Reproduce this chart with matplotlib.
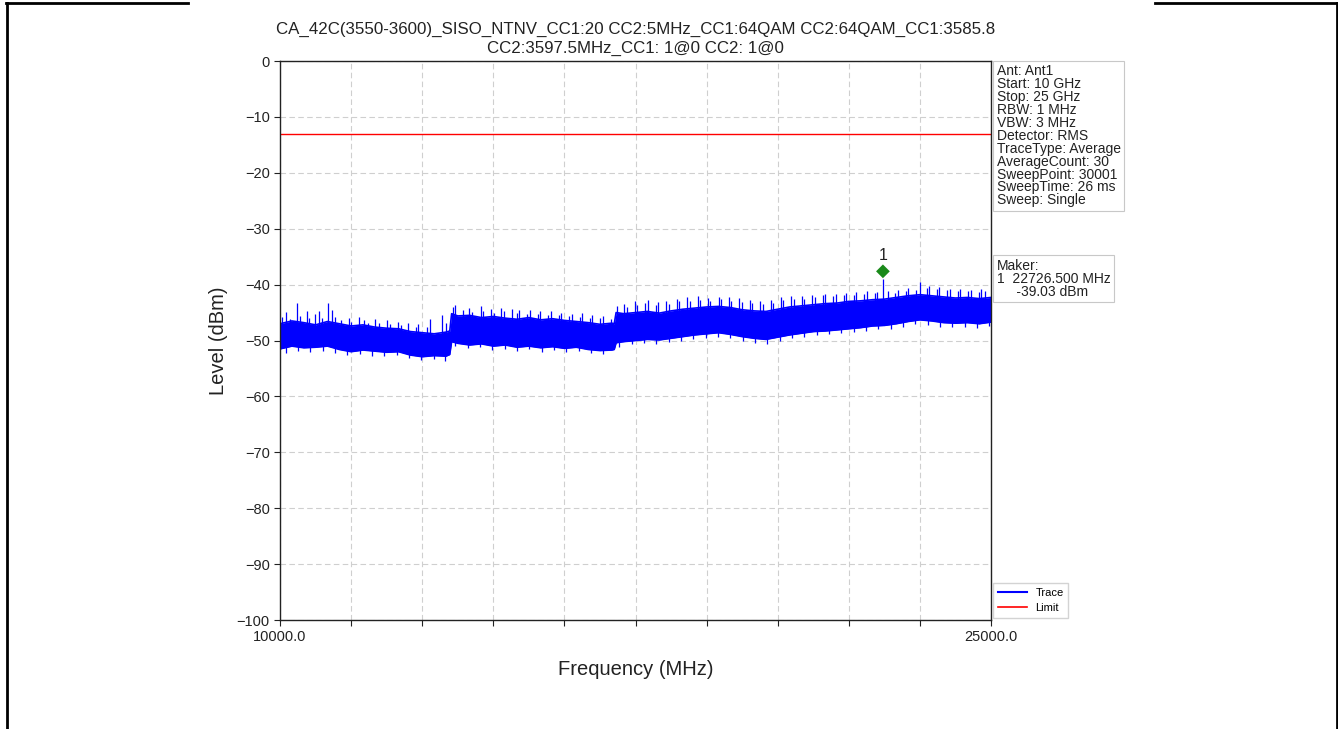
import numpy as np
import matplotlib
matplotlib.use("Agg")
import matplotlib.pyplot as plt
from matplotlib.lines import Line2D

plt.rcParams['font.family'] = ['Liberation Sans', 'DejaVu Sans']

# trace body (MHz / dBm)
freq_mhz = [10000, 10250, 10500, 10750, 11000, 11250, 11500, 11750, 12000, 12250,
            12500, 12750, 13000, 13250, 13500, 13580, 13620, 13750, 14000, 14250,
            14500, 14750, 15000, 15250, 15500, 15750, 16000, 16250, 16500, 16750,
            17000, 17050, 17090, 17250, 17500, 17750, 18000, 18250, 18500, 18750,
            19000, 19250, 19500, 19750, 20000, 20250, 20500, 20750, 21000, 21250,
            21500, 21750, 22000, 22250, 22500, 22750, 23000, 23250, 23500, 23750,
            24000, 24250, 24500, 24750, 25000]
trace_top = [-47.0, -46.5, -46.8, -47.2, -46.6, -47.0, -47.4, -47.2, -47.6, -47.8,
             -47.9, -48.4, -48.6, -48.8, -48.5, -48.3, -45.2, -45.6, -45.5, -45.9,
             -45.7, -46.0, -46.2, -45.9, -46.3, -46.1, -46.4, -46.6, -46.8, -47.1,
             -46.9, -47.0, -45.0, -45.2, -45.0, -44.8, -45.1, -44.7, -44.4, -44.2,
             -44.0, -43.9, -44.1, -44.5, -44.7, -44.8, -44.4, -44.0, -43.8, -43.6,
             -43.4, -43.3, -43.0, -42.9, -42.7, -42.6, -42.3, -42.0, -41.8, -42.0,
             -42.2, -42.4, -42.3, -42.5, -42.3]
trace_bottom = [-51.5, -51.0, -51.3, -51.2, -51.0, -51.6, -52.0, -51.7, -51.9, -52.1,
                -52.0, -52.6, -52.9, -52.7, -52.8, -52.5, -50.2, -50.5, -50.8, -50.6,
                -51.0, -50.8, -51.2, -51.0, -51.3, -51.1, -51.4, -51.2, -51.6, -51.8,
                -51.7, -51.6, -50.4, -50.2, -50.0, -49.8, -49.9, -49.6, -49.3, -49.0,
                -48.8, -48.6, -48.9, -49.3, -49.6, -49.8, -49.4, -49.0, -48.7, -48.4,
                -48.3, -48.1, -47.9, -47.7, -47.4, -47.3, -47.0, -46.6, -46.3, -46.5,
                -46.8, -46.9, -46.8, -47.0, -46.7]

# noise peaks above the trace body
peak_mhz = [10040, 10130, 10210, 10360, 10420, 10560, 10610, 10740, 10830, 10880,
            11020, 11100, 11160, 11290, 11450, 11500, 11660, 11780, 11850, 12010,
            12090, 12260, 12320, 12490, 12560, 12700, 12860, 12920, 13100, 13170,
            13420, 13510,
            13640, 13700, 13850, 13990, 14060, 14230, 14290, 14450, 14510, 14670,
            14720, 14890, 14990, 15050, 15220, 15280, 15440, 15490, 15660, 15710,
            15880, 15930, 16100, 16150, 16320, 16380, 16540, 16590, 16760, 16810,
            16980,
            17110, 17260, 17320, 17480, 17540, 17700, 17760, 17930, 17980, 18150,
            18200, 18370, 18420, 18590, 18640, 18810, 18860, 19030, 19080, 19250,
            19300, 19470, 19520, 19690, 19740, 19910, 19960, 20130, 20180, 20350,
            20400, 20570, 20620, 20790, 20840, 21010, 21060, 21230, 21280, 21450,
            21500, 21670, 21720, 21890, 21940, 22110, 22160, 22330, 22380, 22550,
            22600, 22726.5, 22820, 22980, 23030, 23200, 23250, 23420, 23500, 23640,
            23690, 23860, 23910, 24080, 24130, 24300, 24350, 24520, 24570, 24740,
            24790, 24880]
peak_dbm = [-45.8, -44.9, -46.2, -43.3, -45.6, -44.8, -46.0, -45.3, -44.7, -45.9,
            -43.3, -44.5, -45.8, -46.3, -45.9, -46.6, -45.8, -46.4, -46.8, -46.1,
            -46.9, -46.4, -47.0, -46.6, -47.3, -46.9, -47.6, -47.0, -47.5, -46.2,
            -45.4, -46.8,
            -44.0, -43.7, -44.6, -44.1, -44.9, -43.9, -44.7, -44.3, -45.0, -44.2,
            -44.8, -44.4, -45.1, -44.5, -45.2, -44.6, -45.3, -44.8, -45.4, -44.7,
            -45.5, -45.0, -45.6, -45.2, -45.8, -45.1, -45.9, -45.5, -46.0, -45.6,
            -46.1,
            -43.8, -43.4, -44.0, -43.0, -43.7, -43.2, -42.8, -43.6, -43.1, -42.9,
            -43.5, -42.6, -42.9, -42.3, -43.0, -42.1, -42.7, -42.4, -42.9, -42.2,
            -42.6, -42.3, -42.9, -42.4, -43.1, -42.8, -43.3, -42.9, -43.4, -42.8,
            -43.2, -42.3, -42.7, -42.0, -42.5, -42.1, -42.6, -41.8, -42.2, -41.9,
            -41.7, -42.1, -41.6, -41.9, -41.5, -41.8, -41.3, -41.6, -41.2, -41.5,
            -41.4, -39.0, -41.1, -41.5, -40.9, -41.2, -40.6, -41.0, -39.5, -40.6,
            -40.3, -40.8, -40.4, -40.9, -40.7, -41.1, -40.8, -41.2, -40.9, -41.3,
            -40.8, -41.1]

# dips below the trace body
dip_mhz = [10120, 10380, 10640, 10900, 11160, 11420, 11680, 11940, 12200, 12460,
           12720, 12980, 13240, 13480, 13700, 13960, 14220, 14480, 14740, 15000,
           15260, 15520, 15780, 16040, 16300, 16560, 16820, 17160, 17420, 17680,
           17940, 18200, 18460, 18720, 18980, 19240, 19500, 19760, 20020, 20280,
           20540, 20800, 21060, 21320, 21580, 21840, 22100, 22360, 22620, 22880,
           23140, 23400, 23660, 23920, 24180, 24440, 24700, 24960]
dip_dbm = [-52.2, -51.9, -52.0, -51.8, -52.3, -52.6, -52.4, -52.7, -52.8, -52.6,
           -53.2, -53.5, -53.3, -53.6, -51.0, -51.4, -51.2, -51.7, -51.5, -51.9,
           -51.6, -52.0, -51.7, -52.1, -51.8, -52.3, -52.4, -51.1, -50.7, -50.5,
           -50.6, -50.3, -50.0, -49.7, -49.5, -49.3, -49.6, -50.1, -50.4, -50.6,
           -50.0, -49.6, -49.3, -49.1, -48.9, -48.7, -48.5, -48.3, -48.0, -47.9,
           -47.6, -47.1, -47.2, -47.5, -47.6, -47.5, -47.7, -47.4]

limit_dbm = -13
marker_mhz = 22726.5
marker_dbm = -39.03

title = ("CA_42C(3550-3600)_SISO_NTNV_CC1:20 CC2:5MHz_CC1:64QAM CC2:64QAM_CC1:3585.8\n"
         "CC2:3597.5MHz_CC1: 1@0 CC2: 1@0")
info_lines = ["Ant: Ant1", "Start: 10 GHz", "Stop: 25 GHz", "RBW: 1 MHz", "VBW: 3 MHz",
              "Detector: RMS", "TraceType: Average", "AverageCount: 30",
              "SweepPoint: 30001", "SweepTime: 26 ms", "Sweep: Single"]

fig = plt.figure(figsize=(13.38, 7.29), dpi=100)
ax = fig.add_axes([0.2093, 0.1495, 0.5314, 0.7668])

blue = '#0000ff'
ax.fill_between(freq_mhz, trace_bottom, trace_top, color=blue, lw=0)
ax.plot(freq_mhz, trace_top, color=blue, lw=1.2)
ax.plot(freq_mhz, trace_bottom, color=blue, lw=1.2)
mid = (np.array(trace_top) + np.array(trace_bottom)) / 2
ax.vlines(peak_mhz, np.interp(peak_mhz, freq_mhz, mid), peak_dbm, color=blue, lw=0.9)
ax.vlines(dip_mhz, np.interp(dip_mhz, freq_mhz, mid), dip_dbm, color=blue, lw=0.9)

ax.axhline(limit_dbm, color='#ff0000', lw=1.0)

ax.annotate('\u25C6', xy=(marker_mhz, marker_dbm), xytext=(0, 6), textcoords='offset points',
            ha='center', va='center', color='#1a8a1a', fontsize=13, family='DejaVu Sans')
ax.annotate('1', xy=(marker_mhz, marker_dbm), xytext=(0, 17), textcoords='offset points',
            ha='center', va='center', color='#222222', fontsize=11.5)

ax.set_xlim(10000, 25000)
ax.set_ylim(-100, 0)
ax.set_xticks(np.linspace(10000, 25000, 11))
ax.set_xticklabels(['10000.0'] + [''] * 9 + ['25000.0'])
ax.set_yticks(np.arange(-100, 1, 10))
ax.tick_params(direction='out', length=4, labelsize=10.5, colors='#222222')
ax.grid(True, color='#cfcfcf', ls=(0, (5, 3)), lw=0.8)
ax.set_axisbelow(True)
for s in ax.spines.values():
    s.set_color('#222222')
    s.set_linewidth(1.0)

ax.set_title(title, fontsize=12.2, linespacing=1.3, pad=6, color='#222222')
ax.set_xlabel('Frequency (MHz)', fontsize=14.5, labelpad=11, color='#222222')
ax.set_ylabel('Level (dBm)', fontsize=14.5, labelpad=6, color='#222222')

box = dict(boxstyle='square,pad=0.25', facecolor='white', edgecolor='#c8c8c8', lw=0.8)
ax.text(1.008, 0.994, '\n'.join(info_lines), transform=ax.transAxes, ha='left', va='top',
        fontsize=10, linespacing=0.9, color='#222222', bbox=box)
ax.text(1.008, 0.646, 'Maker:\n1  %.3f MHz\n     %.2f dBm' % (marker_mhz, marker_dbm),
        transform=ax.transAxes, ha='left', va='top', fontsize=10, linespacing=0.9,
        color='#222222', bbox=box)

handles = [Line2D([], [], color=blue, lw=1.5), Line2D([], [], color='#ff0000', lw=1.2)]
leg = ax.legend(handles, ['Trace', 'Limit'], loc='lower left', bbox_to_anchor=(1.0, 0.0),
                fontsize=8, frameon=True, fancybox=False, handlelength=2.6,
                borderaxespad=0.2, borderpad=0.4, labelspacing=0.5)
leg.get_frame().set_edgecolor('#c8c8c8')

# page border of the surrounding document
W, H = 1338.0, 729.0
kw = dict(color='black', lw=2.0, transform=fig.transFigure)
fig.add_artist(Line2D([7 / W, 7 / W], [0, 1 - 3 / H], **kw))
fig.add_artist(Line2D([6 / W, 188 / W], [1 - 3 / H, 1 - 3 / H], **kw))
fig.add_artist(Line2D([1155 / W, 1337 / W], [1 - 3 / H, 1 - 3 / H], **kw))
fig.add_artist(Line2D([1336.5 / W, 1336.5 / W], [0, 1 - 3 / H], **kw))

fig.savefig('out.png', dpi=100)
